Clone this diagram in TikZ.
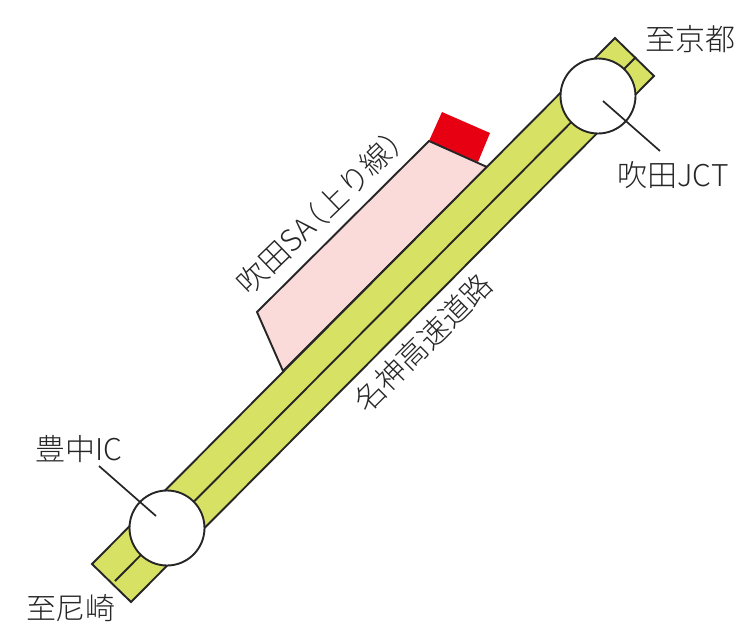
\documentclass[tikz,border=0pt]{standalone}
\usepackage{fontspec}
\setmainfont{Noto Sans CJK JP Light}
\definecolor{roadgreen}{HTML}{D7E164}
\definecolor{sapink}{HTML}{FADBDA}
\definecolor{sared}{HTML}{E60012}
\tikzset{
  outline/.style={draw=black!85,line width=1.9pt,line join=miter},
  lead/.style={draw=black!85,line width=1.7pt},
  junction/.style={circle,draw=black!85,fill=white,line width=1.9pt,minimum size=75pt,inner sep=0pt},
  label/.style={inner sep=0pt,font=\fontsize{30}{30}\selectfont,text=black!85}
}
\begin{document}
\begin{tikzpicture}[x=1pt,y=-1pt]
    \useasboundingbox (0,0) rectangle (753,641);
    \fill[sared] (442,112) -- (490,133) -- (478,162) -- (429,141) -- cycle;
    \draw[outline,fill=sapink] (429,141) -- (487,167) -- (283,371) -- (257,312) -- cycle;
    \draw[outline,fill=roadgreen] (615,38) -- (654,76) -- (131,602) -- (92,564) -- cycle;
    \coordinate (c0) at (636,57);
    \coordinate (c1) at (115,581);
    \draw[outline] (c0) to (c1);
    \node[junction] (jct) at (598,96) {};
    \node[junction] (ic) at (167,528) {};
    \coordinate (l0) at (603,101);
    \coordinate (l1) at (660,151);
    \coordinate (l2) at (99,466);
    \coordinate (l3) at (156,516);
    \draw[lead] (l0) to (l1);
    \draw[lead] (l2) to (l3);
    \node[label] (n0) at (690,39) {至京都};
    \node[label] (n1) at (673,175) {吹田JCT};
    \node[label] (n2) at (79,449) {豊中IC};
    \node[label] (n3) at (71,608) {至尼崎};
    \node[label,rotate=44] (n4) at (325,208) {吹田SA\kern-14pt（上り線）};
    \node[label,rotate=45] (n5) at (423,343) {名神高速道路};
\end{tikzpicture}
\end{document}
